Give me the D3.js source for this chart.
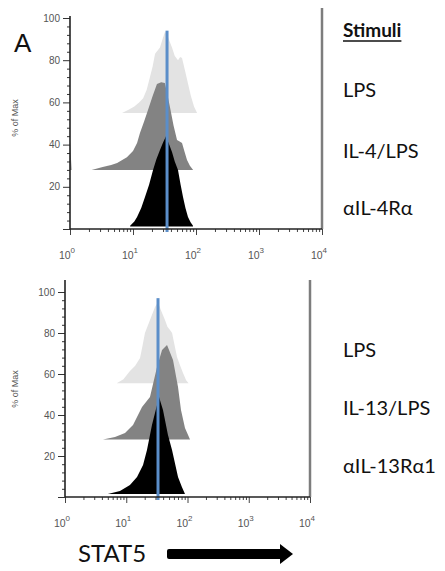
<!DOCTYPE html>
<html>
<head>
<meta charset="utf-8">
<script src="https://cdn.jsdelivr.net/npm/d3@7"></script>
<style>
  body { margin: 0; background: #fff; }
  svg { display: block; font-family: "Liberation Sans", Arial, sans-serif; }
</style>
</head>
<body>
<div id="chart"></div>
<script>
// histogram outlines: [STAT5 intensity, % of Max]
var lpsA = [[6.7,55],[8.5,56.5],[10.5,58],[12.5,60],[14.5,62],[16.5,66],[18.6,72],[20.5,77],[22.4,83],[26.8,86],[29.5,90],[32.2,93.5],[35,92],[38,89],[41.6,86],[46,82],[51.8,80],[56,81.5],[60,81],[67,75],[74.6,69],[83,63],[93,58],[104,55]];
var il4A = [[1,42],[1.06,28],[2.2,28],[3.3,29.4],[4.5,30.3],[5.6,31.3],[8,34],[10,37],[11.6,40.8],[12.9,45.5],[15,51],[17.3,56.4],[20.5,63],[24,68.7],[28,69.5],[32,69.2],[35,64],[38.6,57.8],[44,49],[50,42.2],[55,41.5],[60,40.8],[66,36.5],[72,32.7],[80,30],[90,28]];
var antiIl4A = [[9,1.5],[10.5,3.5],[11.6,5.7],[13.5,10],[15.5,15.2],[18,21],[20.8,28],[23.5,33],[26.8,37.4],[30,41],[33.4,44],[37,40.5],[41.6,36.5],[46,32],[51.8,28],[57,21],[62.2,15.2],[68,10],[74.6,5.7],[82,3.2],[89.6,1.5]];

var lpsB = [[7,55.5],[9,57.5],[11.5,61.5],[14,64],[16.8,67.8],[18.5,74],[20.2,80],[24.4,86.3],[29.5,92.7],[33,95],[37,91],[42.9,86.3],[47,83],[51.8,81.5],[56,80],[67.4,68.3],[76,64],[84.5,60.5],[95,57],[104,55.5]];
var il13B = [[4.17,28],[6.55,29.3],[9.55,31.2],[12.9,35.1],[18.1,43.9],[24.4,48.8],[31.8,63.4],[38.4,71.7],[46.3,74.1],[58,66.8],[70,53.7],[78.3,42.4],[91,33.7],[110,28]];
var antiIl13B = [[5,1.5],[7.9,2.9],[11.5,5.9],[15,9.8],[18.8,15.6],[21.8,22.9],[26.3,35.1],[34.3,48.8],[39.8,42.4],[48,30.2],[55.9,22.9],[70,9.8],[81,4.9],[91,1.5]];

// offset baselines of the stacked histograms (% of Max)
var offsetsA = [55, 28, 1.2];
var offsetsB = [55.5, 28, 1.5];
// blue reference line: [intensity, top in % of Max]
var medianA = [34.7, 94];
var medianB = [33, 97];

var stimuliA = ["LPS", "IL-4/LPS", "αIL-4Rα"];
var stimuliB = ["LPS", "IL-13/LPS", "αIL-13Rα1"];
var decades = [0, 1, 2, 3, 4];
var pctLabels = [20, 40, 60, 80, 100];

var fills = ["#e3e3e3", "#838383", "#000000"];

var w = 445, h = 571;

var svg = d3.select("#chart").append("svg")
    .attr("width", w)
    .attr("height", h);

function drawPanel(x, y, series, offsets, median, axisTop, borderTop, labelY) {
    var g = svg.append("g");

    series.forEach(function (s, i) {
        var area = d3.area()
            .x(d => x(d[0]))
            .y0(y(offsets[i]))
            .y1(d => y(d[1]));
        g.append("path")
            .datum(s)
            .attr("d", area)
            .attr("fill", fills[i]);
    });

    // blue line
    g.append("line")
        .attr("x1", x(median[0]))
        .attr("x2", x(median[0]))
        .attr("y1", y(median[1]))
        .attr("y2", y(0) + 3)
        .attr("stroke", "#5b8ec9")
        .attr("stroke-width", 3);

    // right frame line
    g.append("line")
        .attr("x1", x(1e4))
        .attr("x2", x(1e4))
        .attr("y1", borderTop)
        .attr("y2", y(0))
        .attr("stroke", "#7d7d7d")
        .attr("stroke-width", 2.5);

    // y axis
    var yAxis = d3.axisLeft(y)
        .tickValues(d3.range(0, 101, 4))
        .tickFormat("")
        .tickSize(3)
        .tickSizeOuter(0);
    var ya = g.append("g")
        .attr("transform", "translate(" + x(1) + ",0)")
        .call(yAxis);
    ya.select(".domain").remove();
    ya.selectAll(".tick line")
        .attr("stroke", "#333")
        .attr("x2", d => d % 20 == 0 ? -7 : -3);
    g.append("line")
        .attr("x1", x(1)).attr("x2", x(1))
        .attr("y1", axisTop).attr("y2", y(0))
        .attr("stroke", "#222")
        .attr("stroke-width", 1.6);

    g.selectAll(".ylab")
        .data(pctLabels)
        .join("text")
        .attr("x", x(1) - 10)
        .attr("y", d => y(d) + 3.5)
        .attr("text-anchor", "end")
        .attr("font-size", 10)
        .attr("fill", "#555")
        .text(d => d);

    g.append("text")
        .attr("transform", "translate(18," + labelY + ") rotate(-90)")
        .attr("text-anchor", "middle")
        .attr("font-size", 9)
        .attr("fill", "#555")
        .text("% of Max");

    // x axis
    var xAxis = d3.axisBottom(x)
        .tickValues(x.ticks())
        .tickFormat("")
        .tickSize(3)
        .tickSizeOuter(0);
    var xa = g.append("g")
        .attr("transform", "translate(0," + y(0) + ")")
        .call(xAxis);
    xa.select(".domain").remove();
    xa.selectAll(".tick line")
        .attr("stroke", "#444")
        .attr("y2", d => Math.abs(Math.log10(d) % 1) < 1e-9 ? 6 : 3);
    g.append("line")
        .attr("x1", x(1)).attr("x2", x(1e4))
        .attr("y1", y(0)).attr("y2", y(0))
        .attr("stroke", "#222")
        .attr("stroke-width", 1.6);

    var lab = g.selectAll(".xlab")
        .data(decades)
        .join("text")
        .attr("x", d => x(Math.pow(10, d)) - 3)
        .attr("y", y(0) + 30)
        .attr("text-anchor", "middle")
        .attr("font-size", 10.5)
        .attr("fill", "#555");
    lab.append("tspan").text("10");
    lab.append("tspan")
        .attr("dy", -6)
        .attr("font-size", 8)
        .text(d => d);
}

var xA = d3.scaleLog().domain([1, 1e4]).range([70, 322]);
var yA = d3.scaleLinear().domain([0, 100]).range([229, 18]);
drawPanel(xA, yA, [lpsA, il4A, antiIl4A], offsetsA, medianA, 16, 8, 118);

var xB = d3.scaleLog().domain([1, 1e4]).range([65, 310]);
var yB = d3.scaleLinear().domain([0, 100]).range([497, 292]);
drawPanel(xB, yB, [lpsB, il13B, antiIl13B], offsetsB, medianB, 280, 280, 389);

// panel letter
svg.append("text")
    .attr("x", 14)
    .attr("y", 52)
    .attr("font-size", 26)
    .attr("fill", "#111")
    .text("A");

// stimuli labels
var legendFont = "Lato, 'Open Sans', sans-serif";
var head = svg.append("text")
    .attr("x", 343)
    .attr("y", 37)
    .attr("font-family", legendFont)
    .attr("font-size", 19)
    .attr("font-weight", "bold")
    .attr("fill", "#111")
    .text("Stimuli");
var hw = head.node().getComputedTextLength();
svg.append("line")
    .attr("x1", 343).attr("x2", 343 + hw)
    .attr("y1", 41).attr("y2", 41)
    .attr("stroke", "#111")
    .attr("stroke-width", 1.5);

var rowsA = [97, 158, 215];
var rowsB = [357, 415, 473];
svg.selectAll(".stimA")
    .data(stimuliA)
    .join("text")
    .attr("x", 343)
    .attr("y", (d, i) => rowsA[i])
    .attr("font-family", legendFont)
    .attr("font-size", 20)
    .attr("fill", "#111")
    .text(d => d);
svg.selectAll(".stimB")
    .data(stimuliB)
    .join("text")
    .attr("x", 343)
    .attr("y", (d, i) => rowsB[i])
    .attr("font-family", legendFont)
    .attr("font-size", 20)
    .attr("fill", "#111")
    .text(d => d);

// STAT5 arrow
svg.append("text")
    .attr("x", 78)
    .attr("y", 562)
    .attr("font-family", legendFont)
    .attr("font-size", 24)
    .attr("fill", "#111")
    .text("STAT5");
svg.append("rect")
    .attr("x", 167).attr("y", 549)
    .attr("width", 116).attr("height", 10)
    .attr("rx", 2)
    .attr("fill", "#000");
svg.append("path")
    .attr("d", "M280,544 L293,554 L280,564 Z")
    .attr("fill", "#000");
</script>
</body>
</html>
